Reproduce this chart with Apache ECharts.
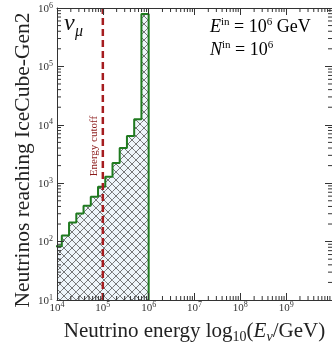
<!DOCTYPE html>
<html><head><meta charset="utf-8">
<script src="https://cdn.jsdelivr.net/npm/echarts@6/dist/echarts.min.js"></script>
<style>html,body{margin:0;padding:0;background:#fff}#c{width:332px;height:349px}</style>
</head><body><div id="c"></div><script>
// ---- data ----
const binEdgesLog10 = [3.947, 4.105, 4.263, 4.421, 4.579, 4.737, 4.895, 5.053, 5.211, 5.368, 5.526, 5.684, 5.842, 6.0];
const counts = [83, 127, 212, 302, 413, 588, 869, 1285, 2222, 4000, 6400, 12450, 790000];
const cutoffEnergy = 1e5;
const xTickExponents = [4, 5, 6, 7, 8, 9];
const yTickExponents = [1, 2, 3, 4, 5, 6];
const minorMultipliers = [2, 3, 4, 5, 6, 7, 8, 9];
const xRange = [1e4, 1e10];
const yRange = [1e1, 1e6];

const FONT = 'Liberation Serif';
const AX = '#333';

// hatch pattern
const tile = document.createElement('canvas');
tile.width = 8; tile.height = 8;
(function () {
  const g = tile.getContext('2d');
  g.fillStyle = '#eef5fa'; g.fillRect(0, 0, 8, 8);
  g.strokeStyle = '#555'; g.lineWidth = 0.8;
  g.beginPath();
  g.moveTo(-1, -1); g.lineTo(9, 9);
  g.moveTo(-1, 9); g.lineTo(9, -1);
  g.stroke();
})();
const hatch = { image: tile, repeat: 'repeat' };

const binData = counts.map((c, i) => [Math.pow(10, binEdgesLog10[i]), Math.pow(10, binEdgesLog10[i + 1]), c]);
const outline = counts.map((c, i) => [Math.pow(10, binEdgesLog10[i]), c]);
const lastEdge = Math.pow(10, binEdgesLog10[binEdgesLog10.length - 1]);
outline.push([lastEdge, counts[counts.length - 1]]);
outline.push([lastEdge, yRange[0]]);

const xMinor = [];
xTickExponents.forEach(e => minorMultipliers.forEach(m => xMinor.push([m * Math.pow(10, e), yRange[0]])));
const yMinor = [];
yTickExponents.slice(0, -1).forEach(e => minorMultipliers.forEach(m => yMinor.push([xRange[0], m * Math.pow(10, e)])));

const labelRich = {
  b: { fontFamily: FONT, fontSize: 11, color: AX, verticalAlign: 'bottom', padding: [2, 0, 0, 0] },
  s: { fontFamily: FONT, fontSize: 8, color: AX, verticalAlign: 'top' }
};
const fmt = exps => v => {
  const e = Math.round(Math.log10(v));
  return exps.includes(e) ? '{b|10}{s|' + e + '}' : '';
};

const tickStyle = { show: true, inside: true, length: 7, lineStyle: { color: AX, width: 1 } };
const lineStyleAx = { show: true, lineStyle: { color: AX, width: 1 } };

const txtRich = {
  i: { fontFamily: FONT, fontSize: 18, fontStyle: 'italic', verticalAlign: 'bottom', padding: [1, 0, 0, 0], color: '#111' },
  r: { fontFamily: FONT, fontSize: 18, verticalAlign: 'bottom', padding: [1, 0, 0, 0], color: '#111' },
  s: { fontFamily: FONT, fontSize: 11, verticalAlign: 'top', color: '#111' }
};

const chart = echarts.init(document.getElementById('c'), null, { renderer: 'canvas' });
chart.setOption({
  animation: false,
  backgroundColor: '#fff',
  grid: { left: 57, top: 8, right: -6, bottom: 47, containLabel: false },
  xAxis: [
    {
      type: 'log', logBase: 10, min: xRange[0], max: xRange[1], position: 'bottom', z: 10,
      axisLine: lineStyleAx, axisTick: tickStyle, splitLine: { show: false },
      axisLabel: { formatter: fmt(xTickExponents), rich: labelRich, margin: 1, showMaxLabel: false },
      name: '{t|Neutrino energy log}{sub|10}{t|(}{it|E}{sub2|ν}{t|/GeV)}',
      nameLocation: 'middle', nameGap: 21,
      nameTextStyle: {
        rich: {
          t: { fontFamily: FONT, fontSize: 21, color: '#222', verticalAlign: 'top' },
          it: { fontFamily: FONT, fontSize: 21, fontStyle: 'italic', color: '#222', verticalAlign: 'top' },
          sub: { fontFamily: FONT, fontSize: 14, color: '#222', verticalAlign: 'bottom', padding: [9, 0, 0, 0] },
          sub2: { fontFamily: FONT, fontSize: 14, fontStyle: 'italic', color: '#222', verticalAlign: 'bottom', padding: [9, 0, 0, 0] }
        }
      }
    },
    {
      type: 'log', logBase: 10, min: xRange[0], max: xRange[1], position: 'top', z: 10,
      axisLine: lineStyleAx, axisTick: tickStyle, splitLine: { show: false }, axisLabel: { show: false }
    }
  ],
  yAxis: [
    {
      type: 'log', logBase: 10, min: yRange[0], max: yRange[1], position: 'left', z: 10,
      axisLine: lineStyleAx, axisTick: tickStyle, splitLine: { show: false },
      axisLabel: { formatter: fmt(yTickExponents), rich: labelRich, margin: 4 }
    },
    {
      type: 'log', logBase: 10, min: yRange[0], max: yRange[1], position: 'right', z: 10,
      axisLine: lineStyleAx, axisTick: tickStyle, splitLine: { show: false }, axisLabel: { show: false }
    }
  ],
  series: [
    {
      type: 'custom', coordinateSystem: 'cartesian2d', xAxisIndex: 0, yAxisIndex: 0, z: 2, silent: true,
      encode: { x: [0, 1], y: 2 },
      data: binData,
      renderItem: (params, api) => {
        const p0 = api.coord([api.value(0), api.value(2)]);
        const p1 = api.coord([api.value(1), yRange[0]]);
        const r = echarts.graphic.clipRectByRect(
          { x: p0[0], y: p0[1], width: p1[0] - p0[0], height: p1[1] - p0[1] },
          { x: params.coordSys.x, y: params.coordSys.y, width: params.coordSys.width, height: params.coordSys.height });
        return r && { type: 'rect', shape: r, style: { fill: hatch } };
      }
    },
    {
      type: 'line', data: outline, step: 'end', symbol: 'none', z: 5, silent: true,
      lineStyle: { color: '#1f7a1f', width: 2 }, clip: true
    },
    {
      type: 'line', data: [[cutoffEnergy, yRange[0]], [cutoffEnergy, yRange[1]]], symbol: 'none', z: 6, silent: true,
      lineStyle: { color: '#a51c1f', width: 2.5, type: [7, 4] }
    },
    {
      type: 'custom', coordinateSystem: 'cartesian2d', z: 11, silent: true, clip: false,
      data: xMinor,
      renderItem: (params, api) => {
        const v = api.value(0);
        const b = api.coord([v, yRange[0]]);
        const t = api.coord([v, yRange[1]]);
        return { type: 'group', children: [
          { type: 'line', shape: { x1: b[0], y1: b[1], x2: b[0], y2: b[1] - 4 }, style: { stroke: AX, lineWidth: 1 } },
          { type: 'line', shape: { x1: t[0], y1: t[1], x2: t[0], y2: t[1] + 4 }, style: { stroke: AX, lineWidth: 1 } }
        ] };
      }
    },
    {
      type: 'custom', coordinateSystem: 'cartesian2d', z: 11, silent: true, clip: false,
      data: yMinor,
      renderItem: (params, api) => {
        const v = api.value(1);
        const l = api.coord([xRange[0], v]);
        const r = api.coord([xRange[1], v]);
        return { type: 'group', children: [
          { type: 'line', shape: { x1: l[0], y1: l[1], x2: l[0] + 4, y2: l[1] }, style: { stroke: AX, lineWidth: 1 } },
          { type: 'line', shape: { x1: r[0], y1: r[1], x2: r[0] - 4, y2: r[1] }, style: { stroke: AX, lineWidth: 1 } }
        ] };
      }
    }
  ],
  graphic: [
    { type: 'text', x: 23, y: 160, rotation: Math.PI / 2, z: 20, style: {
      text: 'Neutrinos reaching IceCube-Gen2', fontFamily: FONT, fontSize: 21.5, fill: '#222', align: 'center', verticalAlign: 'middle' } },
    { type: 'text', left: 64, top: 12, z: 20, style: { text: 'ν', fontFamily: FONT, fontSize: 24, fontStyle: 'italic', fill: '#111' } },
    { type: 'text', left: 75, top: 24, z: 20, style: { text: 'μ', fontFamily: FONT, fontSize: 16, fontStyle: 'italic', fill: '#111' } },
    { type: 'text', left: 210, top: 17, z: 20, style: { text: '{i|E}{s|in}{r| = 10}{s|6}{r| GeV}', rich: txtRich } },
    { type: 'text', left: 210, top: 40, z: 20, style: { text: '{i|N}{s|in}{r| = 10}{s|6}', rich: txtRich } },
    { type: 'text', x: 94, y: 146, rotation: Math.PI / 2, z: 20, style: {
      text: 'Energy cutoff', fontFamily: FONT, fontSize: 11, fill: '#8b1a1a', align: 'center', verticalAlign: 'middle' } }
  ]
});
</script></body></html>
